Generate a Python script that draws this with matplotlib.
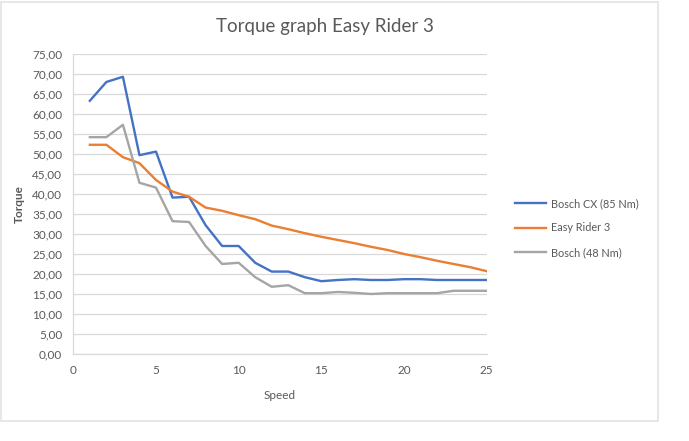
import numpy as np
import matplotlib.pyplot as plt
from matplotlib.patches import Rectangle

plt.rcParams['font.family'] = ['Lato', 'DejaVu Sans']

speed = list(range(1, 26))
bosch_cx = [63.3, 68.0, 69.3, 49.7, 50.6, 39.1, 39.3, 32.2, 27.0, 27.0,
            22.8, 20.6, 20.6, 19.2, 18.2, 18.5, 18.7, 18.5, 18.5, 18.7,
            18.7, 18.5, 18.5, 18.5, 18.5]
easy_rider = [52.3, 52.3, 49.2, 47.7, 43.5, 40.6, 39.3, 36.6, 35.8, 34.7,
              33.7, 32.1, 31.2, 30.2, 29.3, 28.5, 27.7, 26.8, 26.0, 25.0,
              24.2, 23.3, 22.5, 21.7, 20.7]
bosch_48 = [54.2, 54.2, 57.3, 42.8, 41.6, 33.2, 33.0, 27.0, 22.5, 22.8,
            19.2, 16.8, 17.2, 15.2, 15.2, 15.5, 15.3, 15.0, 15.2, 15.2,
            15.2, 15.2, 15.8, 15.8, 15.8]
labels = ['Bosch CX (85 Nm)', 'Easy Rider 3', 'Bosch (48 Nm)']
colors = ['#4472C4', '#ED7D31', '#A5A5A5']

txt = '#595959'
grid = '#D9D9D9'

fig = plt.figure(figsize=(6.89, 4.41), dpi=100)
ax = fig.add_axes([0.1064, 0.1973, 0.6, 0.6803])

for vals, lab, c in zip([bosch_cx, easy_rider, bosch_48], labels, colors):
    ax.plot(speed, vals, color=c, lw=1.7, label=lab, solid_joinstyle='round')

ax.set_xlim(0, 25)
ax.set_ylim(0, 75)
ax.set_xticks(range(0, 26, 5))
ax.set_yticks(np.arange(0, 76, 5))
ax.set_yticklabels([f'{v:.2f}'.replace('.', ',') for v in np.arange(0, 76, 5)])
ax.tick_params(length=0, labelsize=8.5, colors=txt, pad=8)
ax.grid(axis='y', color=grid, lw=0.9)
ax.set_axisbelow(True)
for s in ['top', 'right']:
    ax.spines[s].set_visible(False)
for s in ['left', 'bottom']:
    ax.spines[s].set_color(grid)
    ax.spines[s].set_linewidth(0.9)

ax.set_xlabel('Speed', fontsize=8.5, color=txt, labelpad=10)
ax.set_ylabel('Torque', fontsize=8.5, color=txt, labelpad=5, fontweight='bold')
fig.text(0.472, 0.94, 'Torque graph Easy Rider 3', ha='center', va='center',
         fontsize=13.5, color=txt)

ax.legend(loc='center left', bbox_to_anchor=(1.045, 0.42), frameon=False,
          fontsize=7.8, handlelength=2.9, handletextpad=0.4, labelspacing=1.25,
          labelcolor=txt)

fig.patches.append(Rectangle((1 / 689, 1 - 421 / 441), 657 / 689, 419 / 441,
                             transform=fig.transFigure, fill=False,
                             edgecolor='#E3E3E3', lw=1.2))

fig.savefig('out.png', dpi=100)
